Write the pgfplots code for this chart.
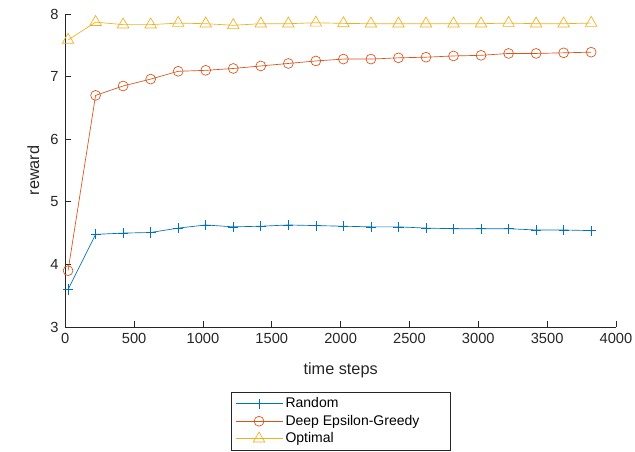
\documentclass[border=0pt]{standalone}
\usepackage{fontspec}
\setmainfont{Liberation Sans}
\usepackage{pgfplots}
\pgfplotsset{compat=1.18}
\definecolor{mblue}{rgb}{0,0.447,0.741}
\definecolor{morange}{rgb}{0.85,0.325,0.098}
\definecolor{myellow}{rgb}{0.929,0.694,0.125}
\definecolor{axgray}{HTML}{262626}
\begin{document}
\begin{tikzpicture}
\useasboundingbox (-48.975pt,-93pt) rectangle (427.275pt,245.25pt);
\begin{axis}[
  at={(0,0)}, anchor=south west,
  scale only axis,
  width=413pt, height=234.75pt,
  xmin=0, xmax=4000, ymin=3, ymax=8,
  xtick={0,500,...,4000}, ytick={3,4,...,8},
  axis x line*=bottom, axis y line*=left,
  axis line style={axgray, line width=0.5pt},
  tick style={axgray, line width=0.5pt},
  tick align=inside,
  major tick length=4.5pt,
  tick label style={font=\fontsize{11}{13}\selectfont, color=axgray},
  yticklabel style={xshift=-1.5pt},
  xticklabel style={yshift=-1pt},
  /pgf/number format/assume math mode=true,
  /pgf/number format/1000 sep={},
  scaled x ticks=false,
  xlabel={time steps}, ylabel={reward},
  label style={font=\fontsize{12.2}{14}\selectfont, color=axgray},
  xlabel style={at={(axis description cs:0.5,-0.138)}, anchor=center},
  ylabel style={at={(axis description cs:-0.058,0.5)}, anchor=center},
  legend style={at={(axis description cs:0.5,-0.2077)}, anchor=north,
    font=\fontsize{10.5}{12}\selectfont, draw=axgray, line width=0.5pt,
    row sep=0pt, inner xsep=3pt, inner ysep=2pt,
    cells={anchor=west}},
  legend image code/.code={\draw[mark repeat=2,mark phase=2,#1] plot coordinates {(0cm,0cm) (0.62cm,0cm) (1.24cm,0cm)};},
  every axis plot/.append style={line width=0.5pt},
  clip=false,
]
\addplot[color=mblue, mark=+, mark size=3.8pt] coordinates {
(20,3.60) (220,4.48) (420,4.50) (620,4.51) (820,4.58) (1020,4.63) (1220,4.60) (1420,4.61) (1620,4.63) (1820,4.62)
(2020,4.61) (2220,4.60) (2420,4.60) (2620,4.58) (2820,4.57) (3020,4.57) (3220,4.57) (3420,4.55) (3620,4.55) (3820,4.54)};
\addlegendentry{Random}
\addplot[color=morange, mark=o, mark size=3.7pt] coordinates {
(20,3.90) (220,6.70) (420,6.85) (620,6.96) (820,7.085) (1020,7.10) (1220,7.13) (1420,7.17) (1620,7.21) (1820,7.25)
(2020,7.28) (2220,7.28) (2420,7.30) (2620,7.31) (2820,7.33) (3020,7.34) (3220,7.37) (3420,7.37) (3620,7.38) (3820,7.39)};
\addlegendentry{Deep Epsilon-Greedy\hspace*{18pt}}
\addplot[color=myellow, mark=triangle, mark size=5pt] coordinates {
(20,7.585) (220,7.87) (420,7.83) (620,7.83) (820,7.855) (1020,7.845) (1220,7.82) (1420,7.845) (1620,7.845) (1820,7.86)
(2020,7.85) (2220,7.845) (2420,7.845) (2620,7.845) (2820,7.845) (3020,7.845) (3220,7.855) (3420,7.845) (3620,7.845) (3820,7.855)};
\addlegendentry{Optimal}
\end{axis}
\end{tikzpicture}
\end{document}
